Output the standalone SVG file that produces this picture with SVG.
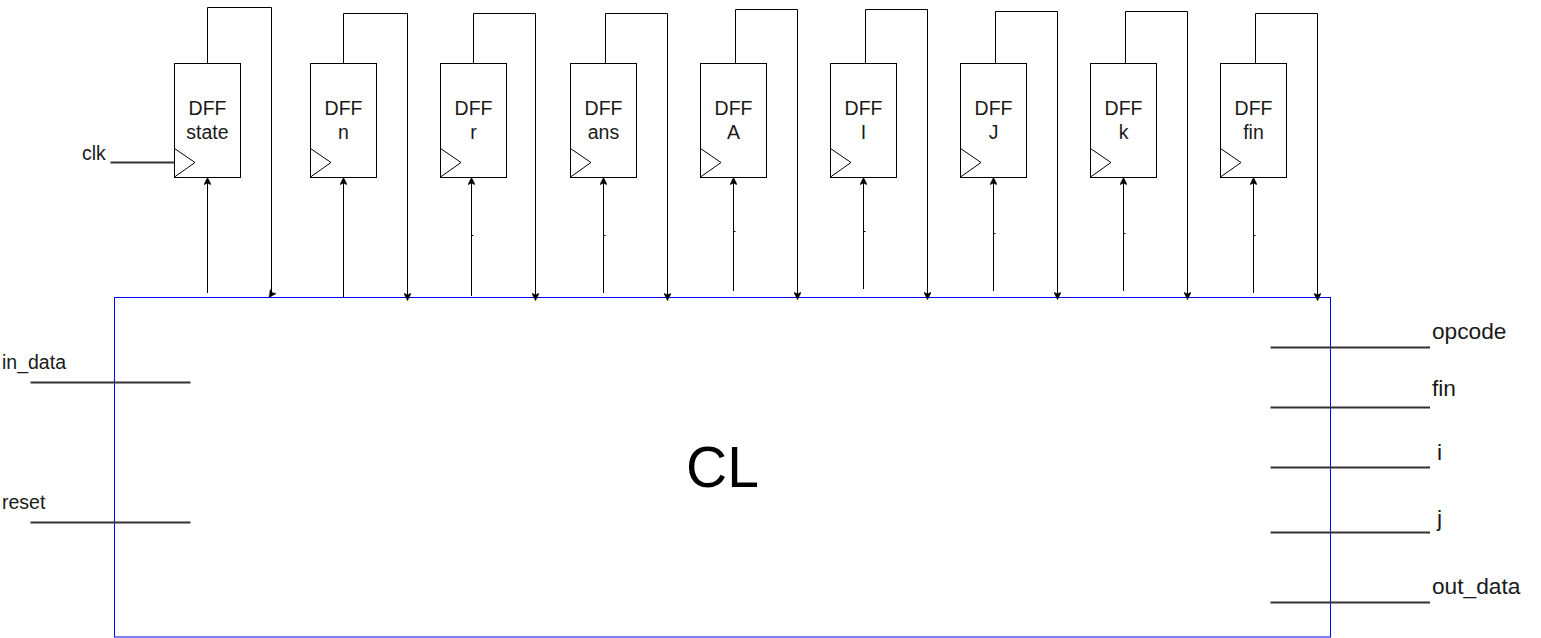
<svg xmlns="http://www.w3.org/2000/svg" width="1541" height="638" viewBox="0 0 1541 638">
<defs>
<style>
.bg{fill:#ffffff}
.dff{fill:#ffffff;stroke:#000000;stroke-width:1}
.clkt{fill:none;stroke:#000000;stroke-width:1}
.t{font-family:"Liberation Sans",Arial,Helvetica,sans-serif;fill:#1a1a1a}
.dt{font-size:19.5px;text-anchor:middle}
.lbl{font-size:19.5px}
.rl{font-size:22.7px}
.wire{fill:none;stroke:#000000;stroke-width:1}
.bus{fill:none;stroke:#333333;stroke-width:2}
.cl{fill:none;stroke:#0000ff;stroke-width:1}
</style>
<marker id="ah" viewBox="0 0 10 10" refX="9" refY="5" markerUnits="userSpaceOnUse" markerWidth="8.5" markerHeight="7.5" orient="auto">
<path d="M0,0 L10,5 L0,10 L2,5 Z" fill="#000000" stroke="#000000" stroke-width="0.5"/>
</marker>
</defs>
<rect class="bg" x="0" y="0" width="1541" height="638"/>

<g id="CL">
<rect class="cl" x="114.5" y="297.5" width="1216" height="339.5"/>
<text class="t" x="722.5" y="487" font-size="57" text-anchor="middle" style="fill:#000000">CL</text>
</g>

<g id="connectors">
<path class="wire" d="M207.5,63.5 V7.5 H271.5 V294 L269.5,297" marker-end="url(#ah)"/>
<path class="wire" d="M343.5,69 V13.5 H407.5 V300" marker-end="url(#ah)"/>
<path class="wire" d="M473.5,69 V13.5 H535.5 V300" marker-end="url(#ah)"/>
<path class="wire" d="M605.5,67 V13.5 H667.5 V300" marker-end="url(#ah)"/>
<path class="wire" d="M735.5,63.5 V9.5 H797.5 V299" marker-end="url(#ah)"/>
<path class="wire" d="M865.5,63.5 V9.5 H927.5 V299" marker-end="url(#ah)"/>
<path class="wire" d="M995.5,63.5 V11.5 H1057.5 V299" marker-end="url(#ah)"/>
<path class="wire" d="M1125.5,63.5 V11.5 H1187.5 V299" marker-end="url(#ah)"/>
<path class="wire" d="M1255.5,67 V13.5 H1317.5 V300" marker-end="url(#ah)"/>
<path class="wire" d="M207.5,293 V178" marker-end="url(#ah)"/>
<path class="wire" d="M343.5,297 V178" marker-end="url(#ah)"/>
<path class="wire" d="M471.5,296 V178" marker-end="url(#ah)"/>
<path class="wire" d="M603.5,293 V178" marker-end="url(#ah)"/>
<path class="wire" d="M733.5,291 V178" marker-end="url(#ah)"/>
<path class="wire" d="M863.5,289 V178" marker-end="url(#ah)"/>
<path class="wire" d="M993.5,291 V178" marker-end="url(#ah)"/>
<path class="wire" d="M1123.5,291 V178" marker-end="url(#ah)"/>
<path class="wire" d="M1253.5,293 V178" marker-end="url(#ah)"/>
<path class="wire" d="M471.5,235.5 h2 M603.5,235.5 h2 M733.5,231.5 h2 M863.5,231.5 h2 M993.5,233.5 h2 M1123.5,233.5 h2 M1253.5,235.5 h2"/>
<path class="bus" d="M110.5,162.5 H174.5"/>
<path class="bus" d="M30.5,382.5 H190.5"/>
<path class="bus" d="M30.5,522.5 H190.5"/>
<path class="bus" d="M1270.5,347.5 H1430"/>
<path class="bus" d="M1270.5,407.5 H1430"/>
<path class="bus" d="M1270.5,467.5 H1430"/>
<path class="bus" d="M1270.5,532.5 H1430"/>
<path class="bus" d="M1270.5,602.5 H1430"/>
</g>

<g id="dff_state">
<rect class="dff" x="174.5" y="63.5" width="66" height="114"/>
<path class="clkt" d="M174.5,148.5 L195,162.5 L174.5,177"/>
<text class="t dt" x="207.5" y="115">DFF</text>
<text class="t dt" x="207.5" y="138.5">state</text>
</g>
<g id="dff_n">
<rect class="dff" x="310.5" y="63.5" width="66" height="114"/>
<path class="clkt" d="M310.5,148.5 L331,162.5 L310.5,177"/>
<text class="t dt" x="343.5" y="115">DFF</text>
<text class="t dt" x="343.5" y="138.5">n</text>
</g>
<g id="dff_r">
<rect class="dff" x="440.5" y="63.5" width="66" height="114"/>
<path class="clkt" d="M440.5,148.5 L461,162.5 L440.5,177"/>
<text class="t dt" x="473.5" y="115">DFF</text>
<text class="t dt" x="473.5" y="138.5">r</text>
</g>
<g id="dff_ans">
<rect class="dff" x="570.5" y="63.5" width="66" height="114"/>
<path class="clkt" d="M570.5,148.5 L591,162.5 L570.5,177"/>
<text class="t dt" x="603.5" y="115">DFF</text>
<text class="t dt" x="603.5" y="138.5">ans</text>
</g>
<g id="dff_A">
<rect class="dff" x="700.5" y="63.5" width="66" height="114"/>
<path class="clkt" d="M700.5,148.5 L721,162.5 L700.5,177"/>
<text class="t dt" x="733.5" y="115">DFF</text>
<text class="t dt" x="733.5" y="138.5">A</text>
</g>
<g id="dff_I">
<rect class="dff" x="830.5" y="63.5" width="66" height="114"/>
<path class="clkt" d="M830.5,148.5 L851,162.5 L830.5,177"/>
<text class="t dt" x="863.5" y="115">DFF</text>
<text class="t dt" x="863.5" y="138.5">I</text>
</g>
<g id="dff_J">
<rect class="dff" x="960.5" y="63.5" width="66" height="114"/>
<path class="clkt" d="M960.5,148.5 L981,162.5 L960.5,177"/>
<text class="t dt" x="993.5" y="115">DFF</text>
<text class="t dt" x="993.5" y="138.5">J</text>
</g>
<g id="dff_k">
<rect class="dff" x="1090.5" y="63.5" width="66" height="114"/>
<path class="clkt" d="M1090.5,148.5 L1111,162.5 L1090.5,177"/>
<text class="t dt" x="1123.5" y="115">DFF</text>
<text class="t dt" x="1123.5" y="138.5">k</text>
</g>
<g id="dff_fin">
<rect class="dff" x="1220.5" y="63.5" width="66" height="114"/>
<path class="clkt" d="M1220.5,148.5 L1241,162.5 L1220.5,177"/>
<text class="t dt" x="1253.5" y="115">DFF</text>
<text class="t dt" x="1253.5" y="138.5">fin</text>
</g>

<g id="labels">
<text class="t lbl" x="82" y="159.5">clk</text>
<text class="t lbl" x="2" y="369">in_data</text>
<text class="t lbl" x="2" y="508.5">reset</text>
<text class="t rl" x="1432" y="338.5">opcode</text>
<text class="t rl" x="1432" y="396">fin</text>
<text class="t rl" x="1437" y="460">i</text>
<text class="t rl" x="1437" y="526">j</text>
<text class="t rl" x="1432" y="594">out_data</text>
</g>
</svg>
